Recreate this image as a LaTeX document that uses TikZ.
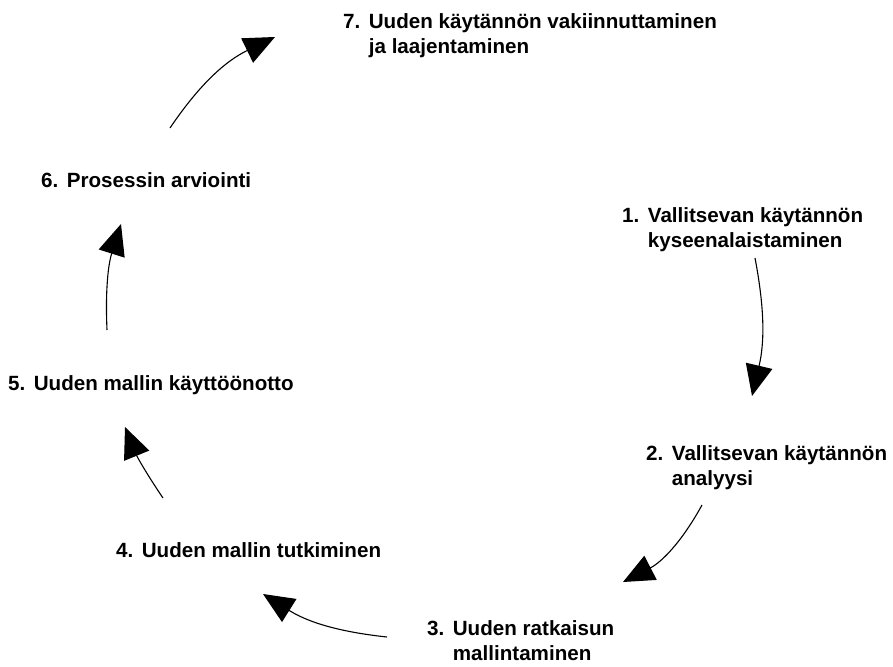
\documentclass[tikz,border=0pt]{standalone}
\usepackage{fontspec}
\setmainfont{Liberation Sans}
\usepackage{tikz}
\usetikzlibrary{arrows.meta}

\begin{document}
\begin{tikzpicture}[
        x=1pt, y=-1pt,
        % This defines the style of the stage texts
        stage/.style={anchor=base west, inner sep=0pt, font=\bfseries\fontsize{20.6}{25}\selectfont},
        % This defines the style of the curved arrows
        arrow/.style={-{Triangle[length=31pt, width=27pt]}, line width=1.1pt, draw=black}
    ]
    \useasboundingbox (0,0) rectangle (893,666);

    % --- THE STAGES ---
    \node (stage1) [stage] at (622,222) {\begin{tabular}[t]{@{}l@{\hspace{8.5pt}}l@{}}1. & Vallitsevan käytännön\\ & kyseenalaistaminen\end{tabular}};
    \node (stage2) [stage] at (646,460) {\begin{tabular}[t]{@{}l@{\hspace{8.5pt}}l@{}}2. & Vallitsevan käytännön\\ & analyysi\end{tabular}};
    \node (stage3) [stage] at (427,635) {\begin{tabular}[t]{@{}l@{\hspace{8.5pt}}l@{}}3. & Uuden ratkaisun\\ & mallintaminen\end{tabular}};
    \node (stage4) [stage] at (116,557) {\begin{tabular}[t]{@{}l@{\hspace{8.5pt}}l@{}}4. & Uuden mallin tutkiminen\end{tabular}};
    \node (stage5) [stage] at (8,390) {\begin{tabular}[t]{@{}l@{\hspace{8.5pt}}l@{}}5. & Uuden mallin käyttöönotto\end{tabular}};
    \node (stage6) [stage] at (41,187) {\begin{tabular}[t]{@{}l@{\hspace{8.5pt}}l@{}}6. & Prosessin arviointi\end{tabular}};
    \node (stage7) [stage] at (343,29) {\begin{tabular}[t]{@{}l@{\hspace{8.5pt}}l@{}}7. & Uuden käytännön vakiinnuttaminen\\ & ja laajentaminen\end{tabular}};

    % --- THE ARROW ENDS ---
    \coordinate (from1) at (755,258);  \coordinate (to1) at (752,396);
    \coordinate (from2) at (702,505);  \coordinate (to2) at (623,582);
    \coordinate (from3) at (387,637);  \coordinate (to3) at (263,594);
    \coordinate (from4) at (163,498);  \coordinate (to4) at (125,427);
    \coordinate (from5) at (107,330);  \coordinate (to5) at (121,224);
    \coordinate (from6) at (170,128);  \coordinate (to6) at (275,37);

    % --- THE CURVED ARROWS ---
    \draw [arrow] (from1) to[bend left=12] (to1);
    \draw [arrow] (from2) to[bend left=17] (to2);
    \draw [arrow] (from3) to[bend left=13] (to3);
    \draw [arrow] (from4) to[bend left=6] (to4);
    \draw [arrow] (from5) to[bend left=10] (to5);
    \draw [arrow] (from6) to[bend left=15] (to6);

\end{tikzpicture}
\end{document}
